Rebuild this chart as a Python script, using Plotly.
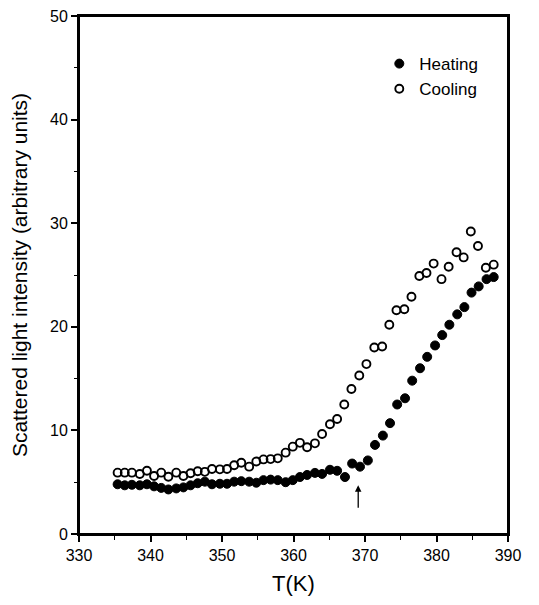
import plotly.graph_objects as go

# Heating (filled circles)
heat_T = [335.4, 336.4, 337.4, 338.5, 339.5, 340.5, 341.5, 342.5, 343.6, 344.6,
          345.6, 346.6, 347.6, 348.6, 349.7, 350.7, 351.7, 352.7, 353.8, 354.8,
          355.8, 356.8, 357.8, 358.9, 359.9, 360.9, 361.9, 363.0, 364.0, 365.1,
          366.1, 367.2, 368.2, 369.3, 370.4, 371.4, 372.5, 373.5, 374.5, 375.6,
          376.6, 377.7, 378.7, 379.8, 380.8, 381.8, 382.9, 383.9, 384.9, 385.9,
          387.0, 388.0]
heat_I = [4.8, 4.7, 4.75, 4.7, 4.8, 4.6, 4.45, 4.3, 4.4, 4.5,
          4.7, 4.9, 5.05, 4.8, 4.85, 4.85, 5.05, 5.1, 5.05, 4.95,
          5.2, 5.25, 5.2, 5.0, 5.2, 5.5, 5.7, 5.9, 5.8, 6.2,
          6.1, 5.5, 6.8, 6.5, 7.1, 8.6, 9.5, 10.7, 12.5, 13.1,
          14.8, 16.0, 17.1, 18.2, 19.2, 20.2, 21.2, 21.9, 23.3, 23.9,
          24.6, 24.8]

# Cooling (open circles)
cool_T = [335.4, 336.4, 337.4, 338.5, 339.5, 340.5, 341.5, 342.5, 343.6, 344.6,
          345.6, 346.6, 347.6, 348.6, 349.7, 350.7, 351.7, 352.7, 353.8, 354.8,
          355.8, 356.8, 357.8, 358.9, 359.9, 360.9, 361.9, 363.0, 364.0, 365.1,
          366.1, 367.1, 368.1, 369.2, 370.2, 371.3, 372.4, 373.4, 374.4, 375.5,
          376.5, 377.6, 378.6, 379.6, 380.7, 381.7, 382.8, 383.8, 384.8, 385.8,
          386.9, 388.0]
cool_I = [5.92, 5.92, 5.92, 5.79, 6.11, 5.6, 5.92, 5.53, 5.92, 5.6,
          5.86, 6.05, 6.0, 6.27, 6.24, 6.27, 6.63, 6.88, 6.5, 7.0,
          7.2, 7.23, 7.3, 7.85, 8.43, 8.8, 8.37, 8.75, 9.65, 10.6,
          11.1, 12.5, 14.0, 15.3, 16.4, 18.0, 18.1, 20.2, 21.6, 21.7,
          22.9, 24.9, 25.2, 26.1, 24.6, 25.8, 27.2, 26.7, 29.2, 27.8,
          25.7, 26.0]

arrow_T = 369.05
arrow_tip, arrow_tail = 4.7, 2.4

FONT = "Liberation Sans, Arial, sans-serif"

fig = go.Figure()
fig.add_trace(go.Scatter(x=heat_T, y=heat_I, mode="markers", name="Heating",
                         marker=dict(symbol="circle", size=9, color="black",
                                     line=dict(color="black", width=1))))
fig.add_trace(go.Scatter(x=cool_T, y=cool_I, mode="markers", name="Cooling",
                         marker=dict(symbol="circle-open", size=8, color="black",
                                     line=dict(color="black", width=1.9))))

fig.add_annotation(x=arrow_T, y=arrow_tip, ax=arrow_T, ay=arrow_tail,
                   xref="x", yref="y", axref="x", ayref="y",
                   showarrow=True, arrowhead=2, arrowsize=1, arrowwidth=1.3,
                   arrowcolor="black", text="")

# plot frame
fig.add_shape(type="rect", xref="paper", yref="paper", x0=0, y0=0, x1=1, y1=1,
              line=dict(color="#000000", width=2), fillcolor="rgba(0,0,0,0)",
              layer="above")

fig.update_layout(
    width=539, height=605,
    margin=dict(l=71, r=39, t=8, b=79),
    paper_bgcolor="white", plot_bgcolor="white",
    font=dict(family=FONT, color="black", size=16),
    showlegend=True,
    legend=dict(x=0.70, y=0.942, xanchor="left", yanchor="top",
                bgcolor="rgba(0,0,0,0)", font=dict(size=17, family=FONT),
                itemsizing="trace", tracegroupgap=0),
)
fig.update_xaxes(range=[330, 390], dtick=10, tick0=330, automargin=False,
                 showgrid=False, zeroline=False, ticklabeloverflow="allow",
                 showline=True, linecolor="#000000", linewidth=2, mirror=True,
                 ticks="outside", ticklen=6, tickwidth=1.5, tickcolor="black",
                 minor=dict(dtick=5, ticks="outside", ticklen=4, tickwidth=1.3, tickcolor="black"),
                 tickfont=dict(size=16),
                 title=dict(text="T(K)", font=dict(size=22), standoff=12))
fig.update_yaxes(range=[0, 50], dtick=10, tick0=0, automargin=False,
                 showgrid=False, zeroline=False, ticklabeloverflow="allow",
                 showline=True, linecolor="#000000", linewidth=2, mirror=True,
                 ticks="outside", ticklen=6, tickwidth=1.5, tickcolor="black",
                 minor=dict(dtick=5, ticks="outside", ticklen=3, tickwidth=1.3, tickcolor="black"),
                 tickfont=dict(size=16),
                 title=dict(text="Scattered light intensity (arbitrary units)",
                            font=dict(size=21), standoff=18))

fig.write_html("out.html")
